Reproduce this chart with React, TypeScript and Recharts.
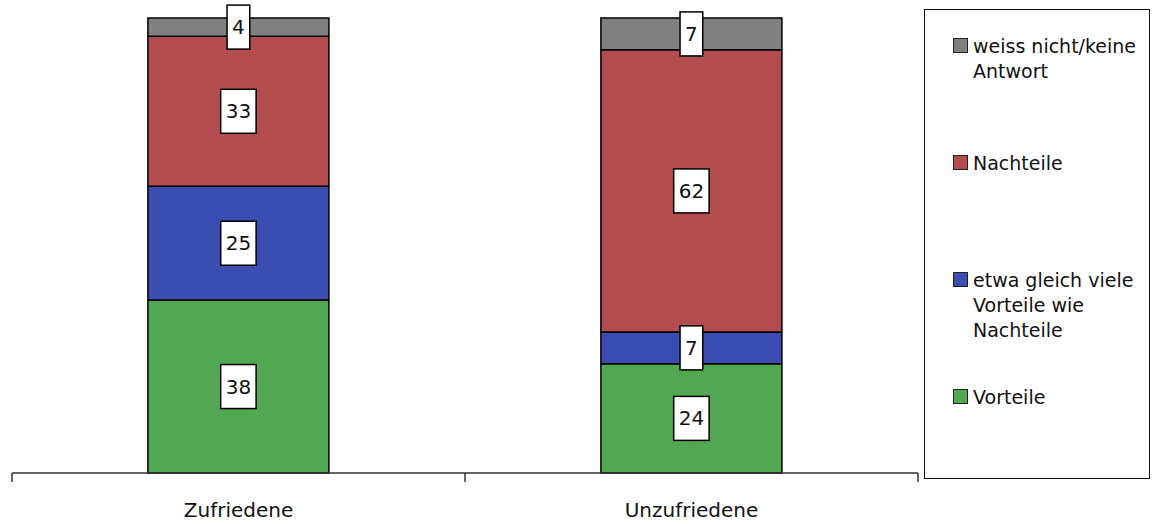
import { Bar, BarChart, LabelList, Legend, XAxis, YAxis } from 'recharts';

const categories = ['Zufriedene', 'Unzufriedene'];
const vorteile = [38, 24];
const gleichViele = [25, 7];
const nachteile = [33, 62];
const weissNicht = [4, 7];

const data = categories.map((name, i) => ({
  name,
  vorteile: vorteile[i],
  gleich: gleichViele[i],
  nachteile: nachteile[i],
  weissNicht: weissNicht[i],
}));

const WIDTH = 1152;
const HEIGHT = 524;
const MARGIN = { top: 18, right: 234, left: 12, bottom: 0 };
const HALF_BAND = (WIDTH - MARGIN.left - MARGIN.right) / categories.length / 2;
const FONT = '"DejaVu Sans", Verdana, sans-serif';

const series = [
  { key: 'vorteile', name: 'Vorteile', color: '#52A852' },
  { key: 'gleich', name: 'etwa gleich viele Vorteile wie Nachteile', color: '#3B4DB0' },
  { key: 'nachteile', name: 'Nachteile', color: '#B24C4E' },
  { key: 'weissNicht', name: 'weiss nicht/keine Antwort', color: '#808080' },
];

// white box with the segment value, centered on the segment
const ValueBox = (props: any) => {
  const { x, y, width, height, value } = props;
  const cx = x + width / 2;
  const cy = y + height / 2;
  const w = String(value).length * 12.7 + 10;
  const h = 44;
  return (
    <g>
      <rect x={cx - w / 2} y={cy - h / 2} width={w} height={h} fill="#fff" stroke="#000" strokeWidth={1.5} />
      <text x={cx} y={cy + 7} textAnchor="middle" fontSize={20} fill="#111" fontFamily={FONT}>
        {value}
      </text>
    </g>
  );
};

const CategoryTick = (props: any) => {
  const { x, y, payload, index } = props;
  const last = index === categories.length - 1;
  return (
    <g>
      <line x1={x - HALF_BAND} y1={y} x2={x - HALF_BAND} y2={y + 9} stroke="#333" strokeWidth={1.5} />
      {last && <line x1={x + HALF_BAND} y1={y} x2={x + HALF_BAND} y2={y + 9} stroke="#333" strokeWidth={1.5} />}
      <text x={x} y={y + 44} textAnchor="middle" fontSize={20} fill="#111" fontFamily={FONT}>
        {payload.value}
      </text>
    </g>
  );
};

const LegendBox = () => (
  <div style={{ position: 'relative', width: '100%', height: '100%', fontFamily: FONT }}>
    {[...series].reverse().map((s, i) => (
      <div
        key={s.key}
        style={{
          position: 'absolute',
          left: 28,
          top: 24 + i * 117,
          width: 190,
          display: 'flex',
          alignItems: 'flex-start',
          fontSize: 19,
          lineHeight: '25px',
          color: '#111',
        }}
      >
        <span
          style={{
            display: 'inline-block',
            width: 13,
            height: 13,
            marginTop: 4,
            marginRight: 5,
            background: s.color,
            border: '1px solid #222',
            flex: 'none',
          }}
        />
        <span style={{ width: 168 }}>{s.name}</span>
      </div>
    ))}
  </div>
);

export default function App() {
  return (
    <div style={{ position: 'fixed', left: 0, top: 0, width: WIDTH, height: HEIGHT, background: '#fff', fontFamily: FONT }}>
      <BarChart width={WIDTH} height={HEIGHT} data={data} margin={MARGIN} barCategoryGap="30%">
        <XAxis
          dataKey="name"
          height={51}
          axisLine={{ stroke: '#333', strokeWidth: 1.5 }}
          tickLine={false}
          tickSize={0}
          tickMargin={0}
          tick={<CategoryTick />}
          interval={0}
        />
        <YAxis hide domain={[0, 100]} />
        <Legend
          layout="horizontal"
          verticalAlign="middle"
          content={<LegendBox />}
          wrapperStyle={{
            left: 924,
            top: 9,
            width: 226,
            height: 470,
            border: '1.5px solid #111',
            boxSizing: 'border-box',
            background: '#fff',
          }}
        />
        {series.map((s) => (
          <Bar
            key={s.key}
            dataKey={s.key}
            name={s.name}
            stackId="a"
            fill={s.color}
            stroke="#000"
            strokeWidth={1.5}
            isAnimationActive={false}
          >
            <LabelList dataKey={s.key} content={<ValueBox />} />
          </Bar>
        ))}
      </BarChart>
    </div>
  );
}
